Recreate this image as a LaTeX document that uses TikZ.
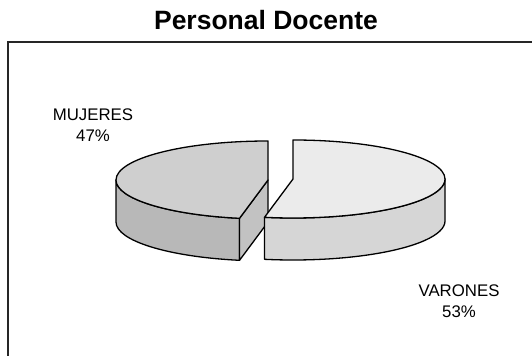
\documentclass[tikz,border=0pt]{standalone}
\usepackage{fontspec}
\setmainfont{Liberation Sans}
\usetikzlibrary{calc}
\definecolor{topL}{gray}{0.81}
\definecolor{sideL}{gray}{0.72}
\definecolor{cutL}{gray}{0.76}
\definecolor{topR}{gray}{0.92}
\definecolor{sideR}{gray}{0.84}
\tikzset{
  slice/.style={draw=black, line width=1.3pt, line join=round},
  lbl/.style={font=\fontsize{16.8}{21.5}\selectfont, align=center, inner sep=0pt},
  frame/.style={draw=black!85, line width=1.2pt}
}
\begin{document}
\begin{tikzpicture}[x=1pt,y=1pt]
\useasboundingbox (0,0) rectangle (532,356);
% frame
\draw[frame] (532,314) -- (8,314) -- (8,0);
% title
\node[font=\fontsize{26.5}{30}\selectfont\bfseries, anchor=base, inner sep=0pt] (title) at (266,326) {Personal Docente};
% centres
\coordinate (CL) at (268,176);
\coordinate (CR) at (293,177);
\def\ra{152}\def\rb{39}\def\dep{42}
% left slice (MUJERES 47%)
\draw[slice, fill=sideL] ($(CL)+(180:\ra pt and \rb pt)$) arc[start angle=180, end angle=259.2, x radius=\ra, y radius=\rb] -- ++(0,-\dep) arc[start angle=259.2, end angle=180, x radius=\ra, y radius=\rb] -- cycle;
\draw[slice, fill=cutL] (CL) -- ($(CL)+(259.2:\ra pt and \rb pt)$) -- ++(0,-\dep) -- ($(CL)+(0,-\dep)$) -- cycle;
\draw[slice, fill=topL] (CL) -- ($(CL)+(90:\ra pt and \rb pt)$) arc[start angle=90, end angle=259.2, x radius=\ra, y radius=\rb] -- cycle;
% right slice (VARONES 53%)
\draw[slice, fill=sideR] ($(CR)+(-100.8:\ra pt and \rb pt)$) arc[start angle=-100.8, end angle=0, x radius=\ra, y radius=\rb] -- ++(0,-\dep) arc[start angle=0, end angle=-100.8, x radius=\ra, y radius=\rb] -- cycle;
\draw[slice, fill=topR] (CR) -- ($(CR)+(90:\ra pt and \rb pt)$) arc[start angle=90, end angle=-100.8, x radius=\ra, y radius=\rb] -- cycle;
% labels
\node[lbl] (muj) at (93,231) {MUJERES\\47\%};
\node[lbl] (var) at (459,55) {VARONES\\53\%};
\end{tikzpicture}
\end{document}
